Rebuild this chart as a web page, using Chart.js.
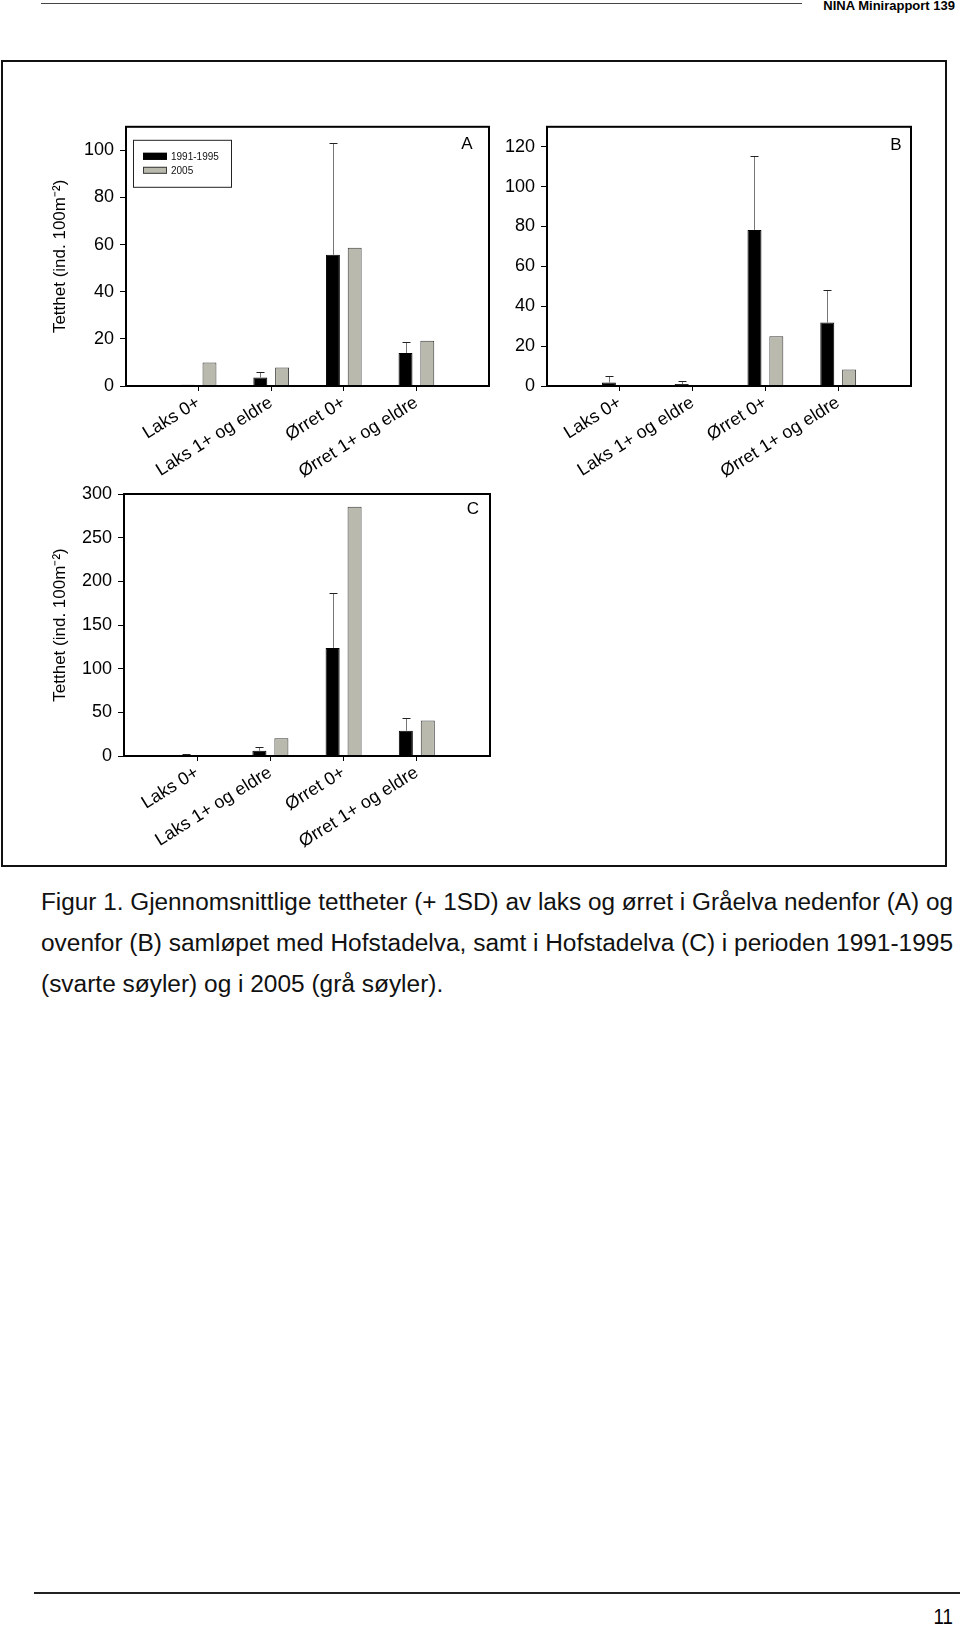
<!DOCTYPE html>
<html>
<head>
<meta charset="utf-8">
<script src="https://cdn.jsdelivr.net/npm/chart.js@4.4.1/dist/chart.umd.min.js"></script>
<style>
  body { margin:0; background:#fff; }
  #page { position:relative; width:960px; height:1627px; overflow:hidden; font-family:"Liberation Sans", Arial, sans-serif; }
  .hdrline { position:absolute; left:41px; top:3px; width:761px; height:0; border-top:1.5px solid #444; }
  .hdr { position:absolute; right:5px; top:-2px; font:bold 13px "Liberation Sans", Arial; }
  .frame { position:absolute; left:1px; top:60px; width:942px; height:803px; border:2.5px solid #111; }
  canvas { position:absolute; }
  .caption { position:absolute; left:41px; top:882px; width:912px; font:23px "Liberation Sans", Arial; color:#111; line-height:41px; }
  .caption span { display:inline-block; white-space:nowrap; transform-origin:0 50%; }
  .ftrline { position:absolute; left:34px; top:1592px; width:926px; height:0; border-top:2px solid #222; }
  .pnum { position:absolute; right:7px; top:1604px; font:22px "Liberation Sans", Arial; transform:scaleX(0.85); transform-origin:100% 50%; }
</style>
</head>
<body>
<div id="page">
  <div class="hdrline"></div>
  <div class="hdr">NINA Minirapport 139</div>
  <div class="frame"></div>
  <canvas id="chartA" width="460" height="380" style="left:40px;top:110px"></canvas>
  <canvas id="chartB" width="440" height="380" style="left:500px;top:110px"></canvas>
  <canvas id="chartC" width="460" height="390" style="left:40px;top:470px"></canvas>
  <div class="caption">
    <div><span>Figur 1. Gjennomsnittlige tettheter (+ 1SD) av laks og ørret i Gråelva nedenfor (A) og</span></div>
    <div><span>ovenfor (B) samløpet med Hofstadelva, samt i Hofstadelva (C) i perioden 1991-1995</span></div>
    <div><span>(svarte søyler) og i 2005 (grå søyler).</span></div>
  </div>
  <div class="ftrline"></div>
  <div class="pnum">11</div>
</div>
<script>
// data
const categories = ['Laks 0+', 'Laks 1+ og eldre', 'Ørret 0+', 'Ørret 1+ og eldre']
const periods = ['1991-1995', '2005']
const yTitle = 'Tetthet (ind. 100m⁻²)'

// A: Gråelva nedenfor
const a9195 = [0.5, 3.6, 55.7, 14.0]
const a9195sd = [0, 2.3, 47.3, 4.8]
const a2005 = [10.0, 7.9, 58.7, 19.2]
// B: Gråelva ovenfor
const b9195 = [1.7, 1.0, 78.3, 31.8]
const b9195sd = [3.4, 1.6, 36.9, 16.2]
const b2005 = [0.3, 0, 25.0, 8.3]
// C: Hofstadelva
const c9195 = [0.4, 6.0, 123.8, 29.0]
const c9195sd = [1.4, 4.0, 63.2, 14.3]
const c2005 = [0, 20.3, 285.4, 40.6]

const yMaxA = 110, yStepA = 20
const yMaxB = 130, yStepB = 20
const yMaxC = 300, yStepC = 50

const FONT = '"Liberation Sans", Arial, sans-serif'

// caption lines: squeeze to the text block width like the narrow print font
const capSpans = document.querySelectorAll('.caption span')
let k = 1
capSpans.forEach((s, i) => {
  if (i < capSpans.length - 1) k = 912 / s.getBoundingClientRect().width
  s.style.transform = 'scaleX(' + k + ')'
})

// +1SD whiskers on top of the bars
const errorBars = {
  id: 'errorBars',
  afterDatasetsDraw(chart) {
    const ctx = chart.ctx
    const y = chart.scales.y
    chart.data.datasets.forEach((ds, i) => {
      if (!ds.sd) return
      chart.getDatasetMeta(i).data.forEach((bar, j) => {
        const sd = ds.sd[j]
        if (!sd) return
        const x = Math.round(bar.x) + 0.5
        const top = Math.round(y.getPixelForValue(ds.data[j].y + sd)) + 0.5
        ctx.save()
        ctx.lineWidth = 1
        ctx.strokeStyle = '#777'
        ctx.beginPath(); ctx.moveTo(x, bar.y); ctx.lineTo(x, top); ctx.stroke()
        ctx.strokeStyle = '#222'
        ctx.beginPath(); ctx.moveTo(x - 4, top); ctx.lineTo(x + 4, top); ctx.stroke()
        ctx.restore()
      })
    })
  }
}

// box around plot area + panel letter + small framed legend
const panelDeco = {
  id: 'panelDeco',
  afterDraw(chart, args, opts) {
    const ctx = chart.ctx
    const a = chart.chartArea
    ctx.save()
    ctx.strokeStyle = '#000'
    ctx.lineWidth = 2
    ctx.strokeRect(a.left, a.top, a.right - a.left, a.bottom - a.top)
    ctx.fillStyle = '#000'
    ctx.font = '17px ' + FONT
    ctx.textAlign = 'center'
    ctx.textBaseline = 'middle'
    ctx.fillText(opts.letter, a.right - opts.dx, a.top + opts.dy)
    if (opts.legend) {
      const lx = a.left + 7, ly = a.top + 13
      ctx.lineWidth = 1
      ctx.strokeStyle = '#222'
      ctx.strokeRect(lx + 0.5, ly + 0.5, 98, 47)
      ctx.font = '10px ' + FONT
      ctx.textAlign = 'left'
      chart.data.datasets.forEach((ds, i) => {
        const sy = ly + 13 + i * 14
        ctx.fillStyle = ds.backgroundColor
        ctx.fillRect(lx + 10, sy, 24, 7)
        ctx.strokeStyle = ds.borderColor
        ctx.strokeRect(lx + 10.5, sy + 0.5, 23, 6)
        ctx.fillStyle = '#111'
        ctx.fillText(ds.label, lx + 38, sy + 4)
      })
    }
    ctx.restore()
  }
}

function makePanel(id, old, oldSd, recent, yMax, yStep, lay) {
  const pts = arr => categories.map((c, i) => ({x: i + 1, y: arr[i]}))
  return new Chart(document.getElementById(id), {
    type: 'bar',
    data: {
      datasets: [
        {label: periods[0], data: pts(old), sd: oldSd, backgroundColor: '#000', borderColor: '#000', borderWidth: 1},
        {label: periods[1], data: pts(recent), backgroundColor: '#bab9ad', borderColor: '#3a3a3a', borderWidth: 1}
      ]
    },
    options: {
      responsive: false,
      animation: false,
      devicePixelRatio: 1,
      categoryPercentage: 0.6,
      barPercentage: 0.64,
      layout: {padding: {top: lay.top, right: lay.right, left: 0, bottom: 0}},
      plugins: {
        legend: {display: false},
        tooltip: {enabled: false},
        panelDeco: {letter: lay.letter, dx: lay.dx, dy: lay.dy, legend: lay.legend}
      },
      scales: {
        x: {
          type: 'linear',
          min: 0,
          max: categories.length + 1,
          offset: false,
          afterBuildTicks: s => { s.ticks = categories.map((c, i) => ({value: i + 1})) },
          afterFit: s => { s.height = lay.xh },
          grid: {offset: false, drawOnChartArea: false, tickLength: 5, color: '#000'},
          border: {color: '#000', width: 2},
          ticks: {
            autoSkip: false,
            maxRotation: 32,
            minRotation: 32,
            padding: 1,
            color: '#000',
            font: {family: FONT, size: 18},
            callback: v => categories[v - 1]
          }
        },
        y: {
          min: 0,
          max: yMax,
          afterFit: s => { s.width = lay.yw },
          grid: {drawOnChartArea: false, tickLength: 6, color: '#000'},
          border: {color: '#000', width: 2},
          ticks: {stepSize: yStep, includeBounds: false, padding: 6, color: '#000', font: {family: FONT, size: 18}},
          title: {display: lay.title, text: yTitle, color: '#000', font: {family: FONT, size: 17}, padding: {top: 10, bottom: 0}}
        }
      }
    },
    plugins: [errorBars, panelDeco]
  })
}

makePanel('chartA', a9195, a9195sd, a2005, yMaxA, yStepA,
  {top: 14, right: 11, yw: 86, xh: 104, title: true, letter: 'A', dx: 22, dy: 18, legend: true})
makePanel('chartB', b9195, b9195sd, b2005, yMaxB, yStepB,
  {top: 14, right: 29, yw: 47, xh: 104, title: false, letter: 'B', dx: 15, dy: 19, legend: false})
makePanel('chartC', c9195, c9195sd, c2005, yMaxC, yStepC,
  {top: 24, right: 10, yw: 84, xh: 104, title: true, letter: 'C', dx: 17, dy: 15, legend: false})
</script>
</body>
</html>
